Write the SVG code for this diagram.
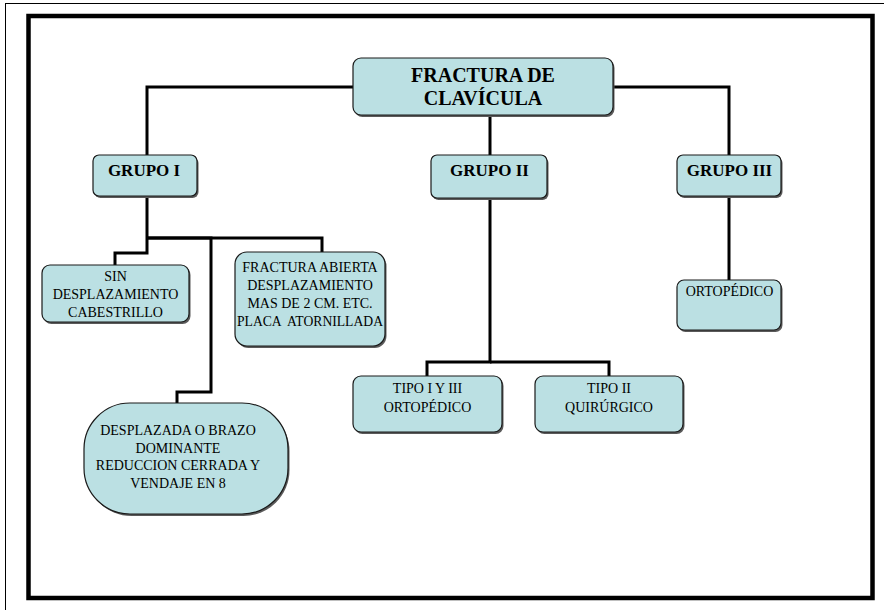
<svg xmlns="http://www.w3.org/2000/svg" width="884" height="610" viewBox="0 0 884 610">
<defs>
<style>
.box{fill:#BBE0E3;stroke:#1a1a1a;stroke-width:1.2}
.sh{fill:#5a5a5a}
.con{fill:none;stroke:#000;stroke-width:3;stroke-linejoin:miter}
.t{font-family:"Liberation Serif","Times New Roman",serif;font-size:14px;fill:#000;text-anchor:middle;white-space:pre}
.b{font-weight:bold;font-size:17px}
.h{font-weight:bold;font-size:20px}
</style>
</defs>
<rect x="0" y="0" width="884" height="610" fill="#fff"/>
<rect x="5.5" y="3.5" width="900" height="630" fill="none" stroke="#000" stroke-width="1"/>
<rect x="28.5" y="16" width="844" height="582" fill="none" stroke="#000" stroke-width="4.5"/>

<g id="connectors">
<polyline class="con" points="353,87 147,87 147,155"/>
<polyline class="con" points="613,87 729,87 729,155"/>
<line class="con" x1="490" y1="115" x2="490" y2="155"/>
<polyline class="con" points="147,196 147,253 115,253 115,265"/>
<polyline class="con" points="147,238 211,238 211,392 177,392 177,403"/>
<polyline class="con" points="147,238 322,238 322,252"/>
<polyline class="con" points="490,198 490,362 427,362 427,376"/>
<polyline class="con" points="490,362 609,362 609,376"/>
<line class="con" x1="729" y1="196" x2="729" y2="280"/>
</g>

<g id="n-fractura">
<rect class="sh" x="354.5" y="60" width="260" height="57" rx="8"/>
<rect class="box" x="353" y="58" width="260" height="57" rx="8"/>
<text class="t h" x="483" y="82">FRACTURA DE</text>
<text class="t h" x="483" y="105">CLAVÍCULA</text>
</g>

<g id="n-grupo1">
<rect class="sh" x="94.5" y="157" width="104" height="41" rx="6"/>
<rect class="box" x="93" y="155" width="104" height="41" rx="6"/>
<text class="t b" x="144" y="176">GRUPO I</text>
</g>

<g id="n-grupo2">
<rect class="sh" x="432.5" y="157" width="116" height="43" rx="6"/>
<rect class="box" x="431" y="155" width="116" height="43" rx="6"/>
<text class="t b" x="489.5" y="176">GRUPO II</text>
</g>

<g id="n-grupo3">
<rect class="sh" x="678.5" y="157" width="104" height="41" rx="6"/>
<rect class="box" x="677" y="155" width="104" height="41" rx="6"/>
<text class="t b" x="729.5" y="176">GRUPO III</text>
</g>

<g id="n-sin">
<rect class="sh" x="43.5" y="267" width="147" height="57" rx="8"/>
<rect class="box" x="42" y="265" width="147" height="57" rx="8"/>
<text class="t" x="115.5" y="281">SIN</text>
<text class="t" x="115.5" y="299">DESPLAZAMIENTO</text>
<text class="t" x="115.5" y="317">CABESTRILLO</text>
</g>

<g id="n-abierta">
<rect class="sh" x="236.5" y="254" width="150" height="94" rx="12"/>
<rect class="box" x="235" y="252" width="150" height="94" rx="12"/>
<text class="t" x="310" y="272">FRACTURA ABIERTA</text>
<text class="t" x="310" y="290">DESPLAZAMIENTO</text>
<text class="t" x="310" y="308">MAS DE 2 CM. ETC.</text>
<text class="t" x="310" y="326" textLength="146" lengthAdjust="spacingAndGlyphs">PLACA  ATORNILLADA</text>
</g>

<g id="n-desplazada">
<rect class="sh" x="85.5" y="405" width="204" height="111" rx="46"/>
<rect class="box" x="84" y="403" width="204" height="111" rx="46"/>
<text class="t" x="178" y="435">DESPLAZADA O BRAZO</text>
<text class="t" x="178" y="452.5">DOMINANTE</text>
<text class="t" x="178" y="470">REDUCCION CERRADA Y</text>
<text class="t" x="178" y="487.5">VENDAJE EN 8</text>
</g>

<g id="n-tipo13">
<rect class="sh" x="354.5" y="378" width="149" height="56" rx="8"/>
<rect class="box" x="353" y="376" width="149" height="56" rx="8"/>
<text class="t" x="427.5" y="393">TIPO I Y III</text>
<text class="t" x="427.5" y="411.5">ORTOPÉDICO</text>
</g>

<g id="n-tipo2">
<rect class="sh" x="536.5" y="378" width="148" height="56" rx="8"/>
<rect class="box" x="535" y="376" width="148" height="56" rx="8"/>
<text class="t" x="609" y="393">TIPO II</text>
<text class="t" x="609" y="411.5">QUIRÚRGICO</text>
</g>

<g id="n-ortopedico">
<rect class="sh" x="678.5" y="282" width="104" height="50" rx="7"/>
<rect class="box" x="677" y="280" width="104" height="50" rx="7"/>
<text class="t" x="729.5" y="296">ORTOPÉDICO</text>
</g>
</svg>
